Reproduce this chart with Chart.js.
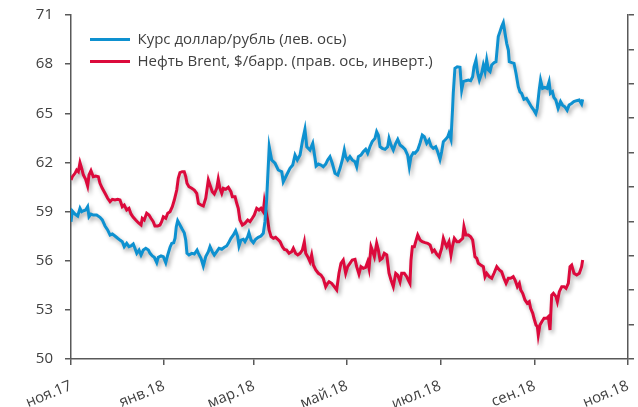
<!DOCTYPE html>
<html><head><meta charset="utf-8">
<script src="https://cdn.jsdelivr.net/npm/chart.js@4/dist/chart.umd.min.js"></script>
<style>html,body{margin:0;padding:0;background:#fff;overflow:hidden}</style>
</head><body>
<canvas id="c" width="638" height="407"></canvas>
<script>
// x values are days since 1 Nov 2017
const tickDays = [0, 61, 120, 181, 242, 304, 365];
const tickLabels = ['ноя.17','янв.18','мар.18','май.18','июл.18','сен.18','ноя.18'];
const leftTicks = [50,53,56,59,62,65,68,71];
const rightTicks = [40,45,50,55,60,65,70,75,80,85,90];
const seriesNames = ['Курс доллар/рубль (лев. ось)', 'Нефть Brent, $/барр. (прав. ось, инверт.)'];

const usdDays = [
0,0.9,2.6,4.4,5.9,7.0,8.1,9.6,10.9,11.8,
13.1,14.6,16.8,19.0,20.5,22.3,24.0,25.6,27.1,28.8,
30.6,32.1,33.6,34.9,36.5,38.0,39.3,40.8,41.9,43.1,
44.6,45.9,47.4,49.0,50.7,51.8,53.3,54.6,56.2,57.2,
59.0,60.5,62.1,63.4,64.9,66.0,67.3,68.2,69.0,69.9,
71.4,72.9,74.2,75.2,76.0,77.3,79.1,80.8,82.6,83.5,
85.2,86.7,88.3,90.0,91.1,92.6,93.9,95.5,97.0,98.8,
100.5,102.0,103.1,104.8,106.4,107.9,109.2,110.1,111.4,112.9,
114.0,115.8,116.6,118.0,119.5,121.0,122.7,124.5,126.0,127.1,
128.2,129.9,131.5,133.7,135.8,138.1,139.1,141.3,143.5,145.3,
146.8,148.3,150.1,151.8,153.3,154.5,156.6,158.4,159.9,160.6,
162.1,163.8,165.3,166.9,168.2,169.7,171.2,173.0,174.8,176.3,
177.8,179.1,180.0,181.3,182.8,184.3,186.1,187.2,188.3,190.0,
191.5,193.1,194.4,195.9,197.4,199.2,200.3,201.4,202.5,204.0,
205.8,207.5,208.4,209.7,211.2,212.8,214.1,215.6,217.1,218.9,
220.6,221.7,222.8,224.3,225.4,227.2,228.7,230.2,231.5,233.1,
234.6,235.9,237.4,239.0,240.3,241.8,242.9,244.0,245.5,246.9,
247.7,249.0,250.0,250.5,251.6,253.1,254.9,256.0,257.1,258.8,
260.4,261.9,263.2,264.1,265.4,266.3,267.6,269.1,270.2,271.3,
272.4,273.5,274.6,275.7,277.2,278.5,279.4,280.0,281.1,282.2,
283.3,284.4,285.5,286.6,287.2,288.8,290.3,291.6,293.1,294.2,
295.3,296.8,298.5,300.2,301.8,303.3,304.6,305.5,306.8,307.7,
309.0,310.5,312.0,313.3,314.2,315.5,316.4,317.7,319.2,320.8,
322.1,323.6,325.1,326.4,328.0,329.5,331.3,333.0,334.6,335.3];
const usdValues = [
58.38,59.03,58.85,58.73,59.20,58.99,59.05,59.10,59.30,58.69,
58.85,58.79,58.79,58.65,58.49,58.12,57.88,57.57,57.63,57.51,
57.37,57.26,57.16,56.86,57.06,56.86,56.90,57.02,56.76,56.45,
56.65,56.35,56.65,56.76,56.65,56.45,56.29,56.21,55.88,56.21,
56.29,56.25,55.88,56.35,56.82,57.06,57.10,57.37,58.08,58.44,
58.18,57.92,57.71,57.26,56.45,56.35,56.45,56.41,56.65,56.45,
56.15,55.68,56.25,56.55,56.86,56.55,56.35,56.55,56.76,56.70,
56.82,56.90,57.06,57.37,57.57,57.83,57.47,56.90,57.26,57.31,
57.16,57.47,57.71,57.26,57.10,57.31,57.43,57.51,57.67,58.38,
59.71,62.96,62.15,61.95,61.54,61.43,60.82,61.23,61.64,61.84,
62.45,62.15,62.45,63.37,64.02,62.96,62.76,63.17,62.25,61.78,
61.90,61.84,61.74,61.90,62.15,62.35,61.95,61.34,61.23,61.64,
62.15,62.76,62.35,62.15,62.35,62.15,62.04,61.74,62.35,62.45,
62.65,62.80,62.56,62.96,63.27,63.47,63.88,63.67,62.96,62.86,
62.80,62.96,63.47,63.06,62.76,63.17,63.41,63.06,62.96,62.80,
62.45,61.74,62.35,62.59,62.56,62.76,63.17,63.67,63.57,63.17,
63.37,63.00,62.86,62.96,62.65,62.19,62.65,63.27,63.41,63.57,
63.78,63.41,65.20,66.22,67.75,67.84,67.81,66.42,66.93,66.99,
67.03,66.99,67.23,67.84,68.25,67.54,67.03,67.44,67.95,67.54,
68.25,67.64,67.54,67.95,68.09,68.15,69.06,69.68,69.98,70.29,
70.53,69.88,69.27,68.86,68.15,68.09,68.05,67.44,66.62,66.31,
66.21,65.85,65.91,65.64,65.39,65.19,64.98,65.29,66.41,67.03,
66.52,66.58,66.52,66.93,66.22,66.32,65.97,65.81,65.30,65.71,
65.50,65.40,65.19,65.50,65.60,65.71,65.77,65.81,65.56,65.85];

const brentDays = [
0,0.9,2.6,3.7,4.8,5.9,7.0,8.1,9.6,10.9,
11.8,13.1,14.6,16.2,17.9,19.0,20.5,22.3,24.0,25.6,
27.1,28.8,30.6,32.1,33.6,34.9,36.5,38.0,39.3,40.8,
42.4,44.1,45.9,46.7,48.0,49.6,51.1,52.4,53.9,55.0,
56.8,58.3,59.4,60.5,62.1,63.4,64.9,66.4,67.7,69.3,
70.3,71.4,72.9,74.2,75.2,76.0,77.3,79.1,80.8,82.4,
83.5,85.2,86.7,88.3,90.0,91.1,92.6,93.9,95.5,96.5,
97.6,98.8,99.8,101.4,103.1,104.8,105.7,107.5,108.6,109.6,
110.7,112.3,114.0,115.8,117.3,118.8,120.1,121.7,123.2,124.5,
126.0,126.7,127.6,128.9,129.8,131.1,132.6,134.1,135.5,137.0,
138.5,139.8,141.3,142.9,144.6,145.7,147.2,148.6,150.1,151.6,
152.9,153.8,155.1,156.6,157.7,158.8,160.4,162.1,163.8,165.3,
166.9,168.2,169.1,170.8,172.5,174.1,175.6,176.9,178.4,180.0,
181.3,182.8,184.3,186.1,187.2,188.7,190.0,191.5,193.1,194.4,
195.3,196.6,197.4,198.8,200.3,201.4,202.5,204.0,205.3,206.9,
208.4,209.7,211.2,212.8,214.1,215.6,216.7,218.4,220.0,221.0,
222.1,222.8,223.7,225.0,225.9,227.2,228.7,230.2,232.0,233.7,
235.3,236.8,238.1,239.6,241.2,242.9,244.0,245.1,246.2,247.7,
249.0,249.9,251.2,252.8,254.3,256.7,257.5,258.8,260.4,261.9,
263.2,264.7,265.9,266.9,268.5,270.2,271.3,272.4,274.1,275.7,
277.2,279.0,280.7,282.2,283.7,285.1,286.6,288.1,289.8,291.0,
292.5,293.8,294.7,296.0,297.5,299.0,300.3,301.2,302.6,303.4,
304.7,305.6,306.2,307.3,308.5,310.0,311.7,312.8,313.9,315.0,
316.1,317.8,318.7,320.0,321.6,323.1,324.4,325.9,327.0,328.1,
329.6,331.4,333.1,334.6,335.3];
const brentValues = [
63.98,63.50,63.01,62.53,62.78,61.47,62.28,63.26,63.88,64.85,
63.26,62.63,63.50,63.40,63.50,64.46,65.19,65.92,66.64,67.14,
66.79,66.89,66.79,66.89,67.86,67.62,68.34,68.10,68.92,69.40,
69.80,70.19,70.52,69.55,69.80,68.82,69.07,69.55,70.04,70.67,
70.67,70.52,70.04,69.32,69.55,68.82,68.59,67.86,66.89,65.44,
63.74,62.92,62.78,62.78,63.50,64.46,64.96,65.19,65.44,65.92,
67.37,67.62,67.76,66.64,63.98,64.71,65.68,66.02,65.19,63.88,
65.19,65.92,65.19,65.33,65.04,65.68,66.41,66.41,67.37,68.10,
69.80,70.52,70.28,69.80,70.04,69.55,69.07,68.10,68.34,68.10,
68.59,67.14,68.34,69.80,71.25,72.22,72.46,72.31,72.60,72.95,
73.68,74.06,74.16,74.64,74.40,73.91,74.64,74.88,74.64,74.16,
72.95,74.64,75.13,75.86,74.88,76.34,77.06,77.54,77.79,78.27,
79.49,79.00,78.76,79.00,79.49,79.97,77.54,76.09,75.61,77.54,
76.58,76.09,75.61,75.51,76.58,77.65,76.58,76.82,76.67,75.86,
76.82,73.68,74.16,75.13,73.18,74.16,75.61,75.36,74.64,74.88,
77.54,78.52,79.49,77.54,77.79,78.76,77.54,77.54,78.04,78.52,
79.00,75.61,73.68,73.68,72.95,71.98,72.70,72.95,73.09,73.18,
73.43,74.40,74.16,74.74,75.13,73.91,72.46,73.18,73.68,72.95,
74.88,73.68,72.46,72.95,72.95,72.46,70.77,71.98,71.98,72.22,
72.70,75.13,75.36,76.09,76.34,76.58,78.04,77.54,78.04,78.27,
77.54,76.58,77.06,77.31,78.27,79.00,78.27,78.27,78.04,78.52,
79.49,79.00,79.97,80.45,81.42,81.90,81.67,82.63,83.36,84.08,
85.06,85.30,86.51,85.06,84.58,84.08,84.08,83.85,85.78,80.70,
80.45,80.94,81.67,80.22,79.49,79.49,79.72,79.00,76.58,76.34,
77.54,77.79,77.54,76.58,75.61];

const FONT = '"Open Sans", "Liberation Sans", sans-serif';
const AX = '#595959';
const TXT = '#404040';
const BLUE = '#0E91D0';
const RED = '#DC0A3C';

const toPts = (xs, ys) => xs.map((x, i) => ({x: x, y: ys[i]}));

const shadowPlugin = {
  id: 'shadow',
  beforeDatasetDraw(chart) {
    const ctx = chart.ctx; ctx.save();
    ctx.shadowColor = 'rgba(0,0,0,0.32)';
    ctx.shadowBlur = 4; ctx.shadowOffsetX = 2; ctx.shadowOffsetY = 3;
  },
  afterDatasetDraw(chart) { chart.ctx.restore(); }
};
const legendShift = {
  id: 'legendShift',
  afterUpdate(chart) {
    const l = chart.legend; if (!l) return;
    const w = l.width, h = l.height;
    l.left = chart.chartArea.left + 12; l.right = l.left + w;
    l.top = chart.chartArea.top + 10; l.bottom = l.top + h;
  }
};
const noVPad = s => { s.paddingTop = 0; s.paddingBottom = 0; };
const noHPad = s => { s.paddingLeft = 0; s.paddingRight = 0; };

new Chart(document.getElementById('c'), {
  type: 'line',
  data: {
    datasets: [
      {label: seriesNames[0], data: toPts(usdDays, usdValues), yAxisID: 'y',
       borderColor: BLUE, backgroundColor: BLUE, borderWidth: 3, pointRadius: 0, tension: 0},
      {label: seriesNames[1], data: toPts(brentDays, brentValues), yAxisID: 'y2',
       borderColor: RED, backgroundColor: RED, borderWidth: 3, pointRadius: 0, tension: 0}
    ]
  },
  options: {
    responsive: false, animation: false, events: [],
    layout: {padding: {top: 15, left: 0, right: 0, bottom: 0}},
    plugins: {
      tooltip: {enabled: false},
      legend: {
        position: 'chartArea', align: 'start',
        labels: {
          boxWidth: 40, boxHeight: 3, padding: 7, color: TXT,
          font: {family: FONT, size: 15},
          generateLabels(chart) {
            const items = Chart.defaults.plugins.legend.labels.generateLabels(chart);
            items.forEach(it => { it.lineWidth = 0; it.fillStyle = it.strokeStyle; });
            return items;
          }
        }
      }
    },
    scales: {
      x: {
        type: 'linear', min: 0, max: 365,
        afterBuildTicks: s => { s.ticks = tickDays.map(v => ({value: v})); },
        afterFit: s => { s.height = 48; noHPad(s); },
        ticks: {
          autoSkip: false, minRotation: 22, maxRotation: 22, padding: 12,
          color: TXT, font: {family: FONT, size: 15},
          callback: (v, i) => tickLabels[i]
        },
        grid: {drawOnChartArea: false, drawTicks: true, tickLength: 6, color: AX, lineWidth: 1.5},
        border: {color: AX, width: 1.5}
      },
      y: {
        position: 'left', min: 50, max: 71,
        afterBuildTicks: s => { s.ticks = leftTicks.map(v => ({value: v})); },
        afterFit: s => { s.width = 71; noVPad(s); },
        ticks: {padding: 12, color: TXT, font: {family: FONT, size: 15}},
        grid: {drawOnChartArea: false, drawTicks: true, tickLength: 6, color: AX, lineWidth: 1.5},
        border: {color: AX, width: 1.5}
      },
      y2: {
        position: 'right', min: 40, max: 90, reverse: true,
        afterBuildTicks: s => { s.ticks = rightTicks.map(v => ({value: v})); },
        afterFit: s => { s.width = 10; noVPad(s); },
        ticks: {display: false},
        grid: {drawOnChartArea: false, drawTicks: true, tickLength: 6, color: AX, lineWidth: 1.5},
        border: {color: AX, width: 1.5}
      }
    }
  },
  plugins: [shadowPlugin, legendShift]
});
</script>
</body></html>
